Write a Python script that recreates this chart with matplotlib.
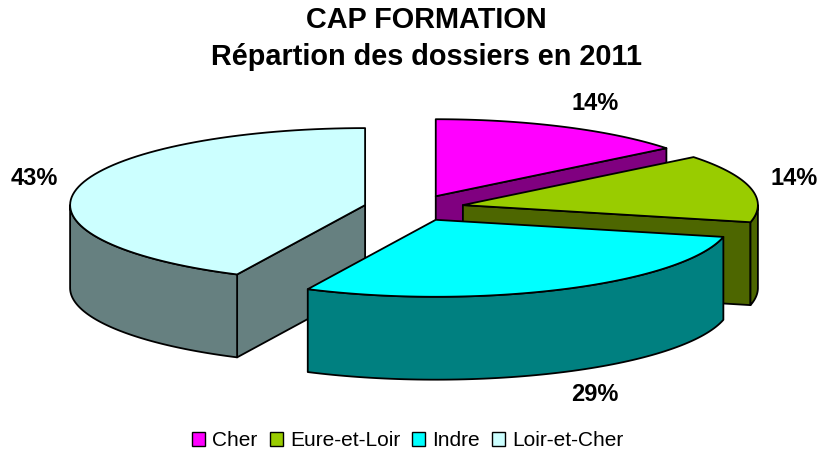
"""CAP FORMATION - répartition des dossiers 2011, camembert 3D éclaté façon Excel."""

import matplotlib

matplotlib.use("Agg")
import matplotlib.pyplot as plt
import numpy as np
from matplotlib.patches import Patch, Polygon

plt.rcParams["font.family"] = ["Liberation Sans", "DejaVu Sans"]

categories = ["Cher", "Eure-et-Loir", "Indre", "Loir-et-Cher"]
dossiers = [1, 1, 2, 3]
top_colors = ["#FF00FF", "#99CC00", "#00FFFF", "#CCFFFF"]
side_colors = ["#800080", "#4D6600", "#008080", "#668080"]

# géométrie (unités = rayon horizontal)
W, H = 834, 453
SCALE = 295.0          # pixels par unité
CX, CY = 414, 208      # centre du camembert en pixels
RY = 0.261             # aplatissement de l'ellipse
DEPTH = 0.281          # épaisseur
EXPLODE = 0.17

fig = plt.figure(figsize=(W / 100, H / 100), dpi=100)
ax = fig.add_axes([0, 0, 1, 1])
ax.set_xlim(-CX / SCALE, (W - CX) / SCALE)
ax.set_ylim(-(H - CY) / SCALE, CY / SCALE)
ax.axis("off")

total = sum(dossiers)
bounds = np.concatenate([[0], np.cumsum(dossiers)]) / total * 360.0


def rim(cx, cy, a, dz=0.0):
    t = np.radians(a)
    return cx + np.sin(t), cy + RY * np.cos(t) - dz


def arc(cx, cy, a1, a2, dz=0.0, n=80):
    t = np.linspace(a1, a2, n)
    return [rim(cx, cy, a, dz) for a in t]


def draw_slice(i):
    a1, a2 = bounds[i], bounds[i + 1]
    mid = np.radians((a1 + a2) / 2)
    cx = EXPLODE * np.sin(mid)
    cy = EXPLODE * RY * np.cos(mid)
    kw = dict(edgecolor="black", linewidth=1.3, joinstyle="round")
    # faces radiales visibles
    for a, visible in ((a1, np.sin(np.radians(a1)) < -1e-6), (a2, np.sin(np.radians(a2)) > 1e-6)):
        if visible:
            p = rim(cx, cy, a)
            q = rim(cx, cy, a, DEPTH)
            ax.add_patch(Polygon([(cx, cy), p, q, (cx, cy - DEPTH)],
                                 facecolor=side_colors[i], **kw))
    # face extérieure (partie avant)
    lo, hi = max(a1, 90), min(a2, 270)
    if hi > lo:
        pts = arc(cx, cy, lo, hi) + arc(cx, cy, hi, lo, DEPTH)
        ax.add_patch(Polygon(pts, facecolor=side_colors[i], **kw))
    # dessus
    pts = [(cx, cy)] + arc(cx, cy, a1, a2)
    ax.add_patch(Polygon(pts, facecolor=top_colors[i], **kw))

    # étiquette
    c = np.cos(mid)
    k = 1.29 + 0.14 * abs(c)
    lx = k * np.sin(mid)
    ly = k * RY * c + (0.022 if c >= 0 else -DEPTH - 0.017)
    ax.text(lx, ly, f"{dossiers[i] / total:.0%}", ha="center", va="center",
            fontsize=17, fontweight="bold")


for i in (0, 3, 1, 2):
    draw_slice(i)

fig.text(426 / W, 1 - 20 / H, "CAP FORMATION", ha="center", va="center",
         fontsize=20.8, fontweight="bold")
fig.text(426 / W, 1 - 57 / H, "Répartion des dossiers en 2011", ha="center",
         va="center", fontsize=20.8, fontweight="bold")

handles = [Patch(facecolor=c, edgecolor="black", linewidth=1.0) for c in top_colors]
fig.legend(handles, categories, loc="center", bbox_to_anchor=(408 / W, 1 - 441 / H),
           ncol=4, frameon=False, fontsize=15, handlelength=0.63, handleheight=0.63,
           handletextpad=0.34, columnspacing=0.58, borderaxespad=0)

fig.savefig("out.png", dpi=100)
